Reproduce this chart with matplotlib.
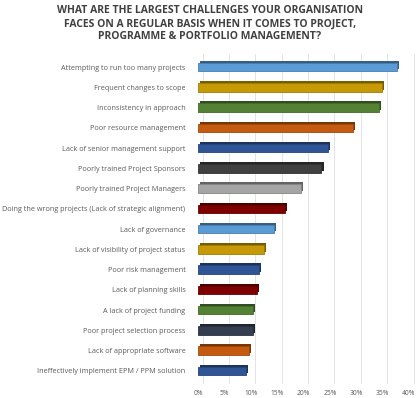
import matplotlib.pyplot as plt
import matplotlib.transforms as mtransforms
import numpy as np

### Data
labels = ['Attempting to run too many projects',
          'Frequent changes to scope',
          'Inconsistency in approach',
          'Poor resource management',
          'Lack of senior management support',
          'Poorly trained Project Sponsors',
          'Poorly trained Project Managers',
          'Doing the wrong projects (Lack of strategic alignment)',
          'Lack of governance',
          'Lack of visibility of project status',
          'Poor risk management',
          'Lack of planning skills',
          'A lack of project funding',
          'Poor project selection process',
          'Lack of appropriate software',
          'Ineffectively implement EPM / PPM solution']
values = [37.8, 34.9, 34.3, 29.4, 24.7, 23.4, 19.5, 16.5,
          14.4, 12.5, 11.5, 11.2, 10.5, 10.5, 9.6, 9.1]
colors = ['#5B9BD5', '#C59A06', '#548235', '#C55A11', '#2F5597', '#404040',
          '#A5A5A5', '#7F0000', '#5B9BD5', '#C59A06', '#2F5597', '#7F0000',
          '#548235', '#333F50', '#C55A11', '#2F5597']
xticks = [0, 5, 10, 15, 20, 25, 30, 35, 40]

title = ('WHAT ARE THE LARGEST CHALLENGES YOUR ORGANISATION\n'
         'FACES ON A REGULAR BASIS WHEN IT COMES TO PROJECT,\n'
         'PROGRAMME & PORTFOLIO MANAGEMENT?')

plt.rcParams['font.family'] = ['Open Sans', 'DejaVu Sans']

fig = plt.figure(figsize=(4.2, 3.98), dpi=100, facecolor='white')
ax = fig.add_axes([198/420, 1-383/398, 211/420, 329/398])

y = np.arange(len(labels))

def darker(c, f=0.6):
    rgb = np.array(plt.matplotlib.colors.to_rgb(c))
    return tuple(rgb*f)

# depth / side face, shifted up-right a little
shift = ax.transData + mtransforms.ScaledTranslation(1.5/72, 1.5/72, fig.dpi_scale_trans)
ax.barh(y, values, height=0.42, color=[darker(c) for c in colors], transform=shift, zorder=2)
ax.barh(y, values, height=0.42, color=colors, edgecolor=[darker(c, 0.8) for c in colors],
        linewidth=0.6, zorder=3)

# back wall grid
grid_tr = ax.transData + mtransforms.ScaledTranslation(4.5/100, 0, fig.dpi_scale_trans)
for t in xticks:
    ax.plot([t, t], [-0.65, 15.6], color='#E3E3E3', lw=0.7, transform=grid_tr, zorder=1, clip_on=False)

ax.set_xlim(0, 40)
ax.set_ylim(15.6, -0.65)
ax.set_yticks(y)
ax.set_yticklabels(labels, fontsize=5.25, color='#595959')
ax.set_xticks(xticks)
ax.set_xticklabels(['%d%%' % t for t in xticks], fontsize=4.8, color='#595959')
ax.tick_params(length=0, pad=5)
ax.tick_params(axis='y', pad=9)
for s in ax.spines.values():
    s.set_visible(False)

fig.text(0.5, 1-5/398, title, ha='center', va='top', fontsize=7.5, fontweight='bold',
         color='#404040', linespacing=1.28)

fig.savefig('out.png', dpi=100, facecolor='white')
